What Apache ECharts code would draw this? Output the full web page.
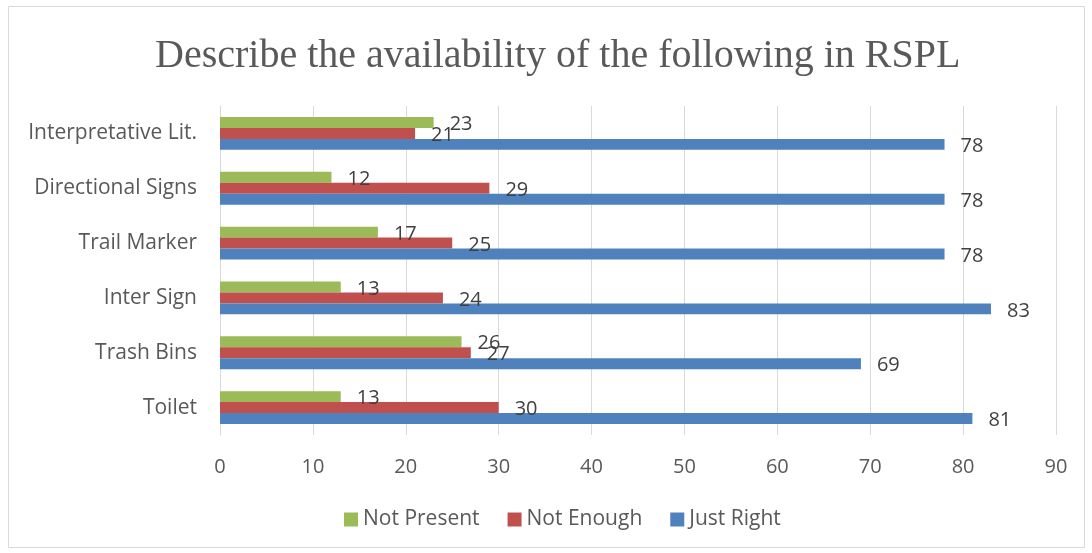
<!DOCTYPE html>
<html>
<head>
<meta charset="utf-8">
<script src="https://cdn.jsdelivr.net/npm/echarts@6/dist/echarts.min.js"></script>
<style>
  html, body { margin: 0; padding: 0; background: #fff; }
  #chart { width: 1092px; height: 553px; }
</style>
</head>
<body>
<div id="chart"></div>
<script>
var categories = ["Toilet", "Trash Bins", "Inter Sign", "Trail Marker", "Directional Signs", "Interpretative Lit."];
var notPresent = [13, 26, 13, 17, 12, 23];
var notEnough = [30, 27, 24, 25, 29, 21];
var justRight = [81, 69, 83, 78, 78, 78];

var labelStyle = {
  show: true,
  position: "right",
  distance: 16,
  offset: [0, 2],
  fontFamily: "Open Sans",
  fontSize: 20,
  color: "#404040"
};

window.onload = function(){
  var myChart = echarts.init(document.querySelector("#chart"));
  myChart.setOption({
    animation: false,
    title: {
      text: "Describe the availability of the following in RSPL",
      left: 150,
      top: 31,
      textStyle: { fontFamily: "Liberation Serif", fontSize: 40, fontWeight: "normal", color: "#595959" }
    },
    graphic: [{
      type: "rect",
      shape: { x: 8.5, y: 6.5, width: 1076, height: 541 },
      style: { fill: "none", stroke: "#d9d9d9", lineWidth: 1 },
      silent: true
    }],
    legend: {
      bottom: 18,
      left: 339,
      itemWidth: 14,
      itemHeight: 14,
      itemGap: 28,
      icon: "rect",
      data: ["Not Present", "Not Enough", "Just Right"],
      textStyle: { fontFamily: "Open Sans", fontSize: 21, color: "#595959" }
    },
    grid: { left: 220, right: 36, top: 106, bottom: 118 },
    xAxis: {
      type: "value",
      min: 0,
      max: 90,
      interval: 10,
      axisLine: { show: false },
      axisTick: { show: false },
      splitLine: { lineStyle: { color: "#d9d9d9" } },
      axisLabel: { margin: 22, fontFamily: "Open Sans", fontSize: 20, color: "#595959" }
    },
    yAxis: {
      type: "category",
      data: categories,
      axisLine: { lineStyle: { color: "#d9d9d9" } },
      axisTick: { show: false },
      axisLabel: { margin: 23, fontFamily: "Open Sans", fontSize: 21, color: "#595959" }
    },
    series: [
      { name: "Not Present", type: "bar", data: notPresent, barGap: "0%", barCategoryGap: "40%",
        itemStyle: { color: "#9BBB59" }, label: labelStyle },
      { name: "Not Enough", type: "bar", data: notEnough, barGap: "0%", barCategoryGap: "40%",
        itemStyle: { color: "#C0504D" }, label: labelStyle },
      { name: "Just Right", type: "bar", data: justRight, barGap: "0%", barCategoryGap: "40%",
        itemStyle: { color: "#4F81BD" }, label: labelStyle }
    ]
  });
  window.addEventListener("resize", function(){ myChart.resize(); }, false);
};
</script>
</body>
</html>
